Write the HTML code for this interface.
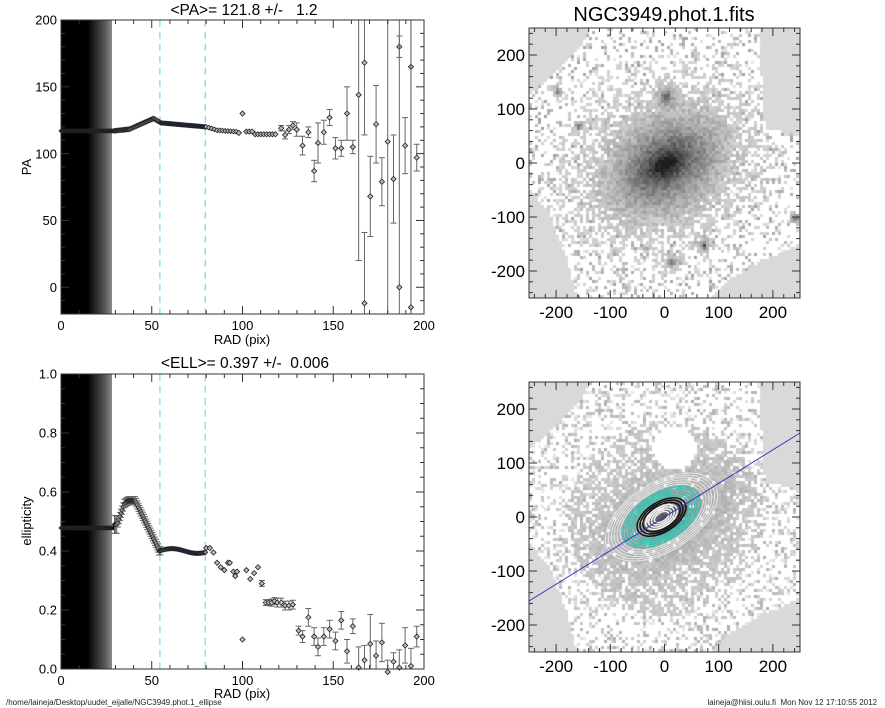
<!DOCTYPE html>
<html><head><meta charset="utf-8">
<style>
html,body{margin:0;padding:0;background:#fff;}
#wrap{position:relative;width:885px;height:708px;overflow:hidden;font-family:"Liberation Sans",sans-serif;}
canvas{position:absolute;}
svg{position:absolute;left:0;top:0;}
text{white-space:pre;}
</style></head>
<body><div id="wrap">
<canvas id="c1" width="271" height="270" style="left:529px;top:28px"></canvas>
<canvas id="c2" width="271" height="270" style="left:529px;top:382px"></canvas>
<svg id="s" width="885" height="708" xmlns="http://www.w3.org/2000/svg" font-family="Liberation Sans, sans-serif">
<defs>
<linearGradient id="band" x1="0" x2="1" y1="0" y2="0">
<stop offset="0" stop-color="#000"/><stop offset="0.52" stop-color="#000"/>
<stop offset="0.62" stop-color="#1a1a1a"/><stop offset="0.75" stop-color="#3a3a3a"/>
<stop offset="0.88" stop-color="#5e5e5e"/><stop offset="1" stop-color="#8a8a8a"/>
</linearGradient>
</defs>
<g id="g"></g>
<text x="244" y="15" font-size="15.5" text-anchor="middle">&lt;PA&gt;= 121.8 +/-   1.2</text>
<text x="664" y="21" font-size="20" text-anchor="middle">NGC3949.phot.1.fits</text>
<text x="245" y="368" font-size="15.5" text-anchor="middle">&lt;ELL&gt;= 0.397 +/-  0.006</text>
<text x="242" y="344" font-size="13" text-anchor="middle">RAD (pix)</text>
<text x="242" y="698" font-size="13" text-anchor="middle">RAD (pix)</text>
<text x="0" y="0" font-size="13" text-anchor="middle" transform="translate(31,167) rotate(-90)">PA</text>
<text x="0" y="0" font-size="13" text-anchor="middle" transform="translate(31,521) rotate(-90)">ellipticity</text>
<text x="6" y="705" font-size="8" fill="#222">/home/laineja/Desktop/uudet_eijalle/NGC3949.phot.1_ellipse</text>
<text x="877" y="705" font-size="8" fill="#222" text-anchor="end">laineja@hiisi.oulu.fi  Mon Nov 12 17:10:55 2012</text>
</svg>
</div>
<script>
var g=document.getElementById('g');var out='';
function seed(s){return function(){s=(s*1103515245+12345)&0x7fffffff;return s/0x7fffffff;};}
function rs(r){return r>100?100+(r-100)*96/90:r;}
function axes(x0,y0,w,h,xmin,xmax,ymin,ymax,xmaj,xmin2,ymaj,ymin2,fs,xl,yl,ydec){
 var X=function(v){return x0+(v-xmin)/(xmax-xmin)*w;},Y=function(v){return y0+h-(v-ymin)/(ymax-ymin)*h;};
 out+='<rect x="'+x0+'" y="'+y0+'" width="'+w+'" height="'+h+'" fill="none" stroke="#333" stroke-width="1"/>';
 var e=1e-9;
 for(var v=Math.ceil(xmin/xmin2-e)*xmin2;v<=xmax+e;v+=xmin2){var maj=Math.abs(v/xmaj-Math.round(v/xmaj))<1e-6;var L=maj?8:4;var x=X(v);
  out+='<line x1="'+x+'" y1="'+(y0+h)+'" x2="'+x+'" y2="'+(y0+h-L)+'" stroke="#333"/><line x1="'+x+'" y1="'+y0+'" x2="'+x+'" y2="'+(y0+L)+'" stroke="#333"/>';
  if(maj&&xl)out+='<text x="'+x+'" y="'+(y0+h+fs+3)+'" font-size="'+fs+'" text-anchor="middle">'+Math.round(v)+'</text>';}
 for(var v=Math.ceil(ymin/ymin2-e)*ymin2;v<=ymax+e;v+=ymin2){var maj=Math.abs(v/ymaj-Math.round(v/ymaj))<1e-6;var L=maj?8:4;var y=Y(v);
  out+='<line x1="'+x0+'" y1="'+y+'" x2="'+(x0+L)+'" y2="'+y+'" stroke="#333"/><line x1="'+(x0+w)+'" y1="'+y+'" x2="'+(x0+w-L)+'" y2="'+y+'" stroke="#333"/>';
  if(maj&&yl)out+='<text x="'+(x0-4)+'" y="'+(y+fs*0.36)+'" font-size="'+fs+'" text-anchor="end">'+(ydec?v.toFixed(1):Math.round(v))+'</text>';}
}
function dia(x,y,c,s){s=s||2.6;return '<path d="M'+x+' '+(y-s)+'L'+(x+s)+' '+y+'L'+x+' '+(y+s)+'L'+(x-s)+' '+y+'Z" fill="'+(c||'#bbb')+'" stroke="#222" stroke-width="0.8"/>';}
function eb(x,y1,y2,top,bot){return '<line x1="'+x+'" y1="'+y1+'" x2="'+x+'" y2="'+y2+'" stroke="#666" stroke-width="1"/>'+(top?'<line x1="'+(x-3)+'" y1="'+y1+'" x2="'+(x+3)+'" y2="'+y1+'" stroke="#666"/>':'')+(bot?'<line x1="'+(x-3)+'" y1="'+y2+'" x2="'+(x+3)+'" y2="'+y2+'" stroke="#666"/>':'');}
// PA plot
(function(){
 var x0=61,y0=20,w=363,h=294;
 var X=function(v){return x0+rs(v)/200*w},Y=function(v){return y0+h-(v+20)/220*h};
 out+='<rect x="61" y="20" width="51" height="294" fill="url(#band)"/>';
 out+='<line x1="'+X(54.5)+'" y1="20" x2="'+X(54.5)+'" y2="314" stroke="#7ee0e8" stroke-width="1.3" stroke-dasharray="7,5"/>';
 out+='<line x1="'+X(79.5)+'" y1="20" x2="'+X(79.5)+'" y2="314" stroke="#7ee0e8" stroke-width="1.3" stroke-dasharray="7,5"/>';
 for(var r=0;r<=29;r+=0.5)out+=dia(X(r),Y(117),'#000',2);
 function pa(r){if(r<38)return 117+ (r-29)*0.15;if(r<45)return 118.5+(r-38)*0.6;if(r<51)return 122.7+(r-45)*0.6;if(r<55)return 126.3-(r-51)*0.8;if(r<80)return 123-(r-55)*0.12;if(r<86)return 120-(r-80)*0.4;return 117.5-(r-86)*0.1;}
 for(var r=29.5;r<55;r+=0.6){out+=eb(X(r),Y(pa(r)+1.5),Y(pa(r)-1.5));out+=dia(X(r),Y(pa(r)),'#999',2.4);}
 for(var r=55;r<80;r+=0.6){out+=dia(X(r),Y(pa(r)),'#2233bb',2.2);}
 for(var r=80;r<98;r+=1.5){out+=dia(X(r),Y(pa(r)),'#bbb',2.4);}
 out+=dia(X(98),Y(115.5));out+=dia(X(100),Y(130));
 for(var r=102;r<=118;r+=1.5)out+=dia(X(r),Y(r<106?116.5:114.5));
 var P=[[120,119,2],[122,114,3],[124,118,3],[126,121,3],[128,118,5],[131,106,7],[134,116,4],[137,87,8],[139,108,15],[142,116,9],[145,127,6],[148,104,8],[151,104,6],[154,130,20],[157,105,5],[160,144,124],[163,168,54],[163,-12,53],[166,68,30],[169,122,29],[172,79,18],[175,109,400],[178,81,33],[181,180,8],[181,0,400],[184,106,21],[187,165,400],[187,-15,400],[190,97,10]];
 P.forEach(function(p){var t=p[1]+p[2],b=p[1]-p[2];var tt=t<=200,bb=b>=-20;t=Math.min(t,200);b=Math.max(b,-20);out+=eb(X(p[0]),Y(t),Y(b),tt,bb);out+=dia(X(p[0]),Y(p[1]));});
 axes(61,20,363,294,0,200,-20,200,50,10,50,10,13,true,true,false);
})();
// ELL plot
(function(){
 var x0=61,y0=374,w=363,h=295;
 var X=function(v){return x0+rs(v)/200*w},Y=function(v){return y0+h-v*h};
 out+='<rect x="61" y="374" width="51" height="295" fill="url(#band)"/>';
 out+='<line x1="'+X(54.5)+'" y1="374" x2="'+X(54.5)+'" y2="669" stroke="#7ee0e8" stroke-width="1.3" stroke-dasharray="7,5"/>';
 out+='<line x1="'+X(79.5)+'" y1="374" x2="'+X(79.5)+'" y2="669" stroke="#7ee0e8" stroke-width="1.3" stroke-dasharray="7,5"/>';
 for(var r=0;r<=29;r+=0.5)out+=dia(X(r),Y(0.478),'#000',2);
 function el(r){if(r<31)return 0.49;if(r<35)return 0.49+(r-31)*0.018;if(r<37)return 0.562+(r-35)*0.004;if(r<41)return 0.57;if(r<54)return 0.57-(r-41)*0.0128;if(r<80)return 0.4+0.008*Math.sin((r-54)/4.5);return 0.41;}
 for(var r=29.5;r<55;r+=0.6){var e=el(r);var er=r<31?0.03:0.014;out+=eb(X(r),Y(e+er),Y(e-er),true,true);out+=dia(X(r),Y(e),'#999',2.4);}
 for(var r=55;r<80;r+=0.6){out+=dia(X(r),Y(el(r)),r<60||r>76?'#999':'#2233bb',2.2);}
 var P=[[80,0.41,0],[82,0.41,0],[84,0.395,0],[86,0.36,0],[88,0.345,0],[90,0.335,0],[92,0.36,0],[93,0.36,0],[95,0.33,0],[96,0.315,0],[97,0.33,0],[100,0.1,0],[102,0.335,0],[104,0.305,0],[106,0.325,0],[108,0.345,0],[110,0.29,0.01],[112,0.225,0.01],[113.5,0.225,0.01],[115,0.225,0.012],[116.5,0.23,0.012],[118,0.225,0.015],[120,0.225,0.015],[122,0.215,0.015],[124,0.215,0.015],[126,0.218,0.015],[129,0.13,0.015],[131,0.11,0.02],[134,0.175,0.03],[137,0.11,0.03],[139,0.075,0.03],[142,0.11,0.03],[145,0.135,0.03],[148,0.095,0.03],[151,0.165,0.03],[154,0.06,0.04],[157,0.145,0.025],[160,0.005,0.07],[163,0.03,0.05],[166,0.085,0.1],[169,0.045,0.05],[172,0.09,0.065],[175,-0.01,0.04],[178,0.025,0.03],[181,0.005,0.06],[184,0.08,0.06],[187,0.01,0.06],[190,0.11,0.035]];
 P.forEach(function(p){if(p[2]>0){var t=p[1]+p[2],b=p[1]-p[2];var bb=b>=0;b=Math.max(b,0);out+=eb(X(p[0]),Y(t),Y(b),true,bb);}out+=dia(X(p[0]),Y(p[1]));});
 axes(61,374,363,295,0,200,0,1,50,10,0.2,0.05,13,true,true,true);
})();
axes(529,28,271,270,-250,250,-250,250,100,20,100,20,17,true,true,false);
axes(529,382,271,270,-250,250,-250,250,100,20,100,20,17,true,true,false);
(function(){
 var cx=664.5,cy=517,s=0.542,ex=cx-3,ey=cy;
 var ell='';
 for(var a=8;a<=64;a+=3.2){var col=a<19?'#f4f4f4':(a<30?'#111':(a<46?'#40c0b0':'#e6e6e6'));
  ell+='<ellipse cx="'+ex+'" cy="'+ey+'" rx="'+a+'" ry="'+(a*0.55)+'" fill="none" stroke="'+col+'" stroke-width="'+(a<46?1.5:1)+'" transform="rotate(-32 '+ex+' '+ey+')"/>';}
 out+=ell;
 out+='<line x1="529" y1="'+(cy+155*s)+'" x2="800" y2="'+(cy-155*s)+'" stroke="#3333cc" stroke-width="1"/>';
})();
g.innerHTML=out;
function inPoly(x,y,p){var c=false;for(var i=0,j=p.length-1;i<p.length;j=i++){if(((p[i][1]>y)!=(p[j][1]>y))&&(x<(p[j][0]-p[i][0])*(y-p[i][1])/(p[j][1]-p[i][1])+p[i][0]))c=!c;}return c;}
var poly=[[0,68],[25,45],[55,14],[62,0],[230,0],[232,40],[236,100],[271,108],[271,216],[240,230],[205,248],[180,270],[48,270],[38,230],[20,185],[0,160]];
function draw(id,mode,sd){
 var cv=document.getElementById(id),c=cv.getContext('2d');var R=seed(sd);
 c.fillStyle='#d9d9d9';c.fillRect(0,0,271,270);
 var stars=[[0,125,9],[-200,135,6],[70,-150,7],[10,-180,7],[240,-100,7],[-160,70,5]];
 var ca=Math.cos(32*Math.PI/180),sa=Math.sin(32*Math.PI/180);
 for(var py=0;py<270;py+=3)for(var px=0;px<271;px+=3){
  if(!inPoly(px+1.5,py+1.5,poly))continue;
  var ux=(px-135.5)/0.542,uy=(135-py)/0.542;
  var u=ux*ca+uy*sa,v=-ux*sa+uy*ca;
  var re=Math.sqrt(u*u+(v/0.6)*(v/0.6));var rr=Math.sqrt(ux*ux+uy*uy);
  var val=255;
  if(mode==1){
   var I=0.75*Math.exp(-re/70)+0.35*Math.exp(-rr/110);
   for(var k=0;k<stars.length;k++){var d=Math.hypot(ux-stars[k][0],uy-stars[k][1]);I+=0.7*Math.exp(-d/stars[k][2]);}
   var gv=I+(R()-0.5)*0.18;
   if(gv<0.14){val=R()<0.25?160+R()*70:255;}else{val=Math.max(30,245-gv*230);}
  }else{
   var hole=Math.hypot(ux-15,uy-130)<40;
   var gv=Math.exp(-re/90)*0.9+(rr<180?0.15:0)+(R()-0.5)*0.3;
   if(hole){val=255;}else if(gv<0.22){val=R()<0.3?175+R()*60:255;}else{val=R()<0.06?255:Math.max(120,228-gv*100);}
   if(re<45)val=Math.max(90,val-40);
  }
  c.fillStyle='rgb('+(val|0)+','+(val|0)+','+(val|0)+')';c.fillRect(px,py,3,3);
 }
}
draw('c1',1,12345);draw('c2',2,777);
</script>
</body></html>
